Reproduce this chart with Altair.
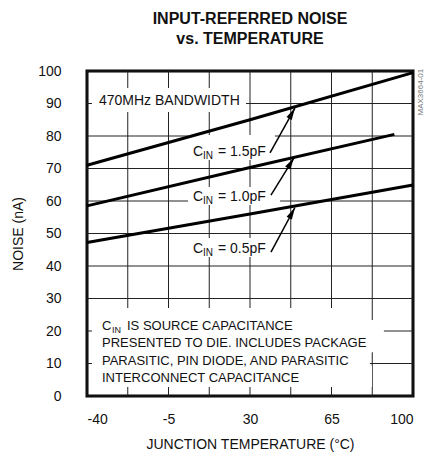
import math
import altair as alt
import pandas as pd

FONT = "Liberation Sans, Arial, Helvetica, sans-serif"

# --- curve data: input-referred noise (nA) vs junction temperature (degC) ---
temps_a = [-40, 30, 100]
temps_b = [-40, 30, 92]
noise_15pf = [71.0, 85.0, 99.5]
noise_10pf = [58.5, 70.3, 80.5]
noise_05pf = [47.2, 56.0, 64.9]
cap_values = ["1.5pF", "1.0pF", "0.5pF"]

# --- axis ticks and grid ---
x_labels = [-40, -5, 30, 65, 100]
x_grid = [-40, -22.5, -5, 12.5, 30, 47.5, 65, 82.5, 100]
y_ticks = list(range(0, 101, 10))

note_lines = ["IS SOURCE CAPACITANCE",
              "PRESENTED TO DIE. INCLUDES PACKAGE",
              "PARASITIC, PIN DIODE, AND PARASITIC",
              "INTERCONNECT CAPACITANCE"]

W, H = 326, 325
X_DOM, Y_DOM = [-40, 100], [0, 100]

curves = pd.DataFrame(
    [{"t": t, "n": n, "cap": cap_values[0]} for t, n in zip(temps_a, noise_15pf)]
    + [{"t": t, "n": n, "cap": cap_values[1]} for t, n in zip(temps_b, noise_10pf)]
    + [{"t": t, "n": n, "cap": cap_values[2]} for t, n in zip(temps_a, noise_05pf)]
)

# white panels behind the annotation text (data units)
panels = pd.DataFrame({
    "t": [-37.85, 3.4, 3.4, 3.4, -37.85, -37.85, -37.85, -37.85],
    "t2": [28.3, 40.7, 42.9, 41.2, 70.8, 87.5, 81.5, 82.4],
    "n": [94.8, 80.3, 64.3, 48.6, 27.1, 23.4, 14.2, 9.2],
    "n2": [87.4, 72.6, 58.8, 42.8, 19.7, 13.5, 8.9, 2.8],
})

# "C_IN = ..." labels beside each curve
cap_labels = pd.DataFrame({
    "t": [5.5, 5.5, 5.5],
    "n": [73.9, 60.0, 44.0],
    "rest": ["= " + c for c in cap_values],
})
# first line of the note ("C_IN IS SOURCE ...")
note_head = pd.DataFrame({"t": [-33.56], "n": [20.46], "rest": [note_lines[0]]})

plain_labels = pd.DataFrame({
    "t": [-33.56, -33.56, -33.56],
    "n": [15.08, 9.69, 4.31],
    "text": note_lines[1:],
})
band_label = pd.DataFrame({"t": [-34.85], "n": [89.5], "text": ["470MHz BANDWIDTH"]})

# arrows from each capacitance label to its curve
arrows = pd.DataFrame({
    "t": [38.6, 39.0, 39.0],
    "n": [74.8, 61.8, 44.3],
    "t2": [49.3, 48.9, 49.3],
    "n2": [88.6, 73.3, 58.0],
})
px_x, px_y = W / (X_DOM[1] - X_DOM[0]), H / (Y_DOM[1] - Y_DOM[0])
arrows["angle"] = [
    math.degrees(math.atan2((b - a) * px_x, (d - c) * px_y))
    for a, b, c, d in zip(arrows.t, arrows.t2, arrows.n, arrows.n2)
]

xs = alt.Scale(domain=X_DOM, nice=False, zero=False)
ys = alt.Scale(domain=Y_DOM, nice=False)

x_axis = alt.Axis(
    values=x_labels, tickCount=len(x_labels), labelExpr="datum.value + ''",
    title="JUNCTION TEMPERATURE (°C)",
    grid=False, ticks=False, domain=False, labelOverlap=False,
    labelPadding=16, titlePadding=11,
)
y_axis = alt.Axis(
    values=y_ticks, tickCount=len(y_ticks), title="NOISE (nA)",
    grid=False, ticks=False, domain=False, labelOverlap=False,
    labelPadding=26, titlePadding=12,
)

X = alt.X("t:Q", scale=xs)
Y = alt.Y("n:Q", scale=ys)

# invisible copy of the curves that carries both axes
axes_layer = alt.Chart(curves).mark_line(opacity=0).encode(
    x=alt.X("t:Q", scale=xs, axis=x_axis),
    y=alt.Y("n:Q", scale=ys, axis=y_axis),
    detail="cap:N",
)

vgrid = alt.Chart(pd.DataFrame({"t": x_grid})).mark_rule(
    color="#222", strokeWidth=1).encode(x=X)
hgrid = alt.Chart(pd.DataFrame({"n": y_ticks})).mark_rule(
    color="#222", strokeWidth=1).encode(y=Y)

panel_layer = alt.Chart(panels).mark_rect(fill="white").encode(
    x=X, x2="t2:Q", y=Y, y2="n2:Q",
)

lines = alt.Chart(curves).mark_line(color="black", strokeWidth=3).encode(
    x=X, y=Y, detail="cap:N",
)

txt = dict(font=FONT, align="left", baseline="alphabetic", color="#111")


def subscript_label(df, size):
    """'C' with subscript 'IN' followed by the rest of the text."""
    c = alt.Chart(df).mark_text(fontSize=size, **txt).encode(
        x=X, y=Y, text=alt.value("C"))
    sub = alt.Chart(df).mark_text(fontSize=size - 4, dx=10, dy=3, **txt).encode(
        x=X, y=Y, text=alt.value("IN"))
    rest = alt.Chart(df).mark_text(fontSize=size, dx=25, **txt).encode(
        x=X, y=Y, text="rest:N")
    return [c, sub, rest]


plain_layer = alt.Chart(plain_labels).mark_text(fontSize=13, **txt).encode(
    x=X, y=Y, text="text:N")
band_layer = alt.Chart(band_label).mark_text(fontSize=14, **txt).encode(
    x=X, y=Y, text="text:N")

shafts = alt.Chart(arrows).mark_rule(color="black", strokeWidth=1.5).encode(
    x=X, x2="t2:Q", y=Y, y2="n2:Q",
)
heads = alt.Chart(arrows).mark_point(
    shape="M0,0 L0.5,2 L-0.5,2 Z", filled=True, color="black", opacity=1, size=144,
).encode(
    x=alt.X("t2:Q", scale=xs),
    y=alt.Y("n2:Q", scale=ys),
    angle=alt.Angle("angle:Q", scale=None),
)

tag = alt.Chart(pd.DataFrame({"t": [103.6], "n": [93.5]})).mark_text(
    font=FONT, fontSize=8, angle=270,
    align="center", baseline="middle", color="#777",
).encode(x=X, y=Y, text=alt.value("MAX3664-01"))

chart = alt.layer(
    axes_layer, vgrid, hgrid, panel_layer, lines,
    *subscript_label(cap_labels, 14), *subscript_label(note_head, 13),
    plain_layer, band_layer, shafts, heads, tag,
).properties(
    width=W, height=H,
    title=alt.Title(
        ["INPUT-REFERRED NOISE", "vs. TEMPERATURE"],
        font=FONT, fontSize=16, fontWeight="bold", lineHeight=20,
        color="#111", offset=17, anchor="middle",
    ),
    autosize=alt.AutoSizeParams(type="none"),
    padding={"left": 87, "top": 71, "right": 12, "bottom": 62},
).configure_view(
    stroke="black", strokeWidth=3,
).configure_axis(
    labelFont=FONT, labelFontSize=14, labelColor="#111",
    titleFont=FONT, titleFontSize=14, titleFontWeight="normal", titleColor="#111",
)

chart.save("out.html", embed_options={"renderer": "svg", "actions": False})
